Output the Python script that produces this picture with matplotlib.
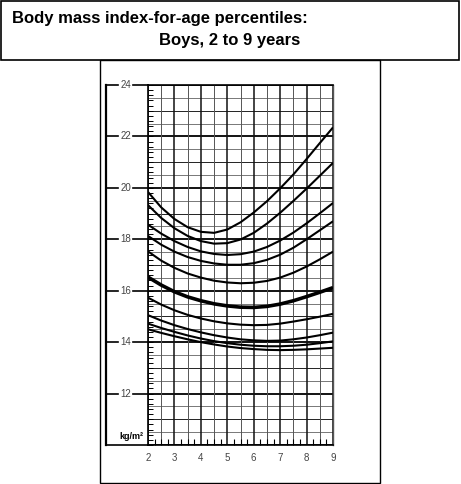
import numpy as np
import matplotlib
matplotlib.use("Agg")
import matplotlib.pyplot as plt
from matplotlib.patches import Rectangle
from matplotlib.transforms import blended_transform_factory

plt.rcParams['font.family'] = ['Liberation Sans', 'DejaVu Sans']

ages = [2, 2.5, 3, 3.5, 4, 4.5, 5, 5.5, 6, 6.5, 7, 7.5, 8, 8.5, 9]

# BMI percentile curves, kg/m2
p97 = [19.84, 19.24, 18.79, 18.47, 18.29, 18.25, 18.38, 18.66, 19.04, 19.48, 19.98, 20.52, 21.12, 21.74, 22.35]
p95 = [19.33, 18.83, 18.43, 18.13, 17.93, 17.83, 17.85, 17.99, 18.25, 18.61, 19.03, 19.49, 19.97, 20.47, 20.97]
p90 = [18.57, 18.22, 17.93, 17.70, 17.53, 17.43, 17.39, 17.42, 17.52, 17.70, 17.95, 18.26, 18.62, 19.01, 19.41]
p85 = [18.13, 17.79, 17.52, 17.31, 17.16, 17.06, 17.01, 17.01, 17.07, 17.20, 17.40, 17.67, 18.00, 18.35, 18.70]
p75 = [17.53, 17.17, 16.89, 16.67, 16.51, 16.39, 16.32, 16.29, 16.31, 16.38, 16.51, 16.70, 16.94, 17.22, 17.52]
p50 = [16.53, 16.22, 15.96, 15.76, 15.61, 15.49, 15.41, 15.36, 15.35, 15.39, 15.48, 15.61, 15.77, 15.94, 16.12]
p25 = [15.73, 15.46, 15.24, 15.06, 14.92, 14.81, 14.73, 14.68, 14.66, 14.67, 14.72, 14.80, 14.89, 14.99, 15.10]
p10 = [15.05, 14.84, 14.66, 14.51, 14.38, 14.27, 14.18, 14.11, 14.07, 14.05, 14.06, 14.11, 14.18, 14.27, 14.37]
p5 = [14.72, 14.55, 14.40, 14.26, 14.14, 14.04, 13.96, 13.90, 13.86, 13.84, 13.84, 13.86, 13.90, 13.96, 14.03]
p3 = [14.50, 14.36, 14.23, 14.11, 14.00, 13.91, 13.83, 13.77, 13.73, 13.70, 13.69, 13.70, 13.72, 13.75, 13.78]

curves = [p97, p95, p90, p85, p75, p50, p25, p10, p5, p3]
x_labels = ['2', '3', '4', '5', '6', '7', '8', '9']
y_labels = ['12', '14', '16', '18', '20', '22', '24']
title1 = 'Body mass index-for-age percentiles:'
title2 = 'Boys, 2 to 9 years'

W, H = 461, 484
fig = plt.figure(figsize=(W / 100, H / 100), dpi=100)

# frames (pixel coords -> figure fraction)
def fx(px):
    return px / W

def fy(py):
    return 1 - py / H

fig.add_artist(Rectangle((fx(1), fy(60)), fx(458), 59 / H, fill=False, lw=1.2, ec='black'))
fig.add_artist(Rectangle((fx(100), fy(483)), fx(280), 423 / H, fill=False, lw=1.0, ec='black'))
fig.text(fx(12), fy(19), title1, fontsize=12, fontweight='bold', va='center', ha='left')
fig.text(fx(230), fy(41), title2, fontsize=12, fontweight='bold', va='center', ha='center')

# plot area: age 2 at x=148, age 9 at x=333, 24 at y=85, 10 at y=445
ax = fig.add_axes([fx(148), fy(445), (333 - 148) / W, (445 - 85) / H])
ax.set_xlim(2, 9)
ax.set_ylim(10, 24)

# grid
for v in np.arange(10, 24.01, 0.5):
    if v % 2 == 0:
        ax.axhline(v, color='black', lw=1.3, zorder=1)
    elif v % 1 == 0:
        ax.axhline(v, color='#222222', lw=0.7, zorder=1)
    else:
        ax.axhline(v, color='#777777', lw=0.7, zorder=1)
for a in np.arange(2, 9.01, 0.5):
    if a % 1 == 0:
        ax.axvline(a, color='#111111', lw=1.1, zorder=1)
    else:
        ax.axvline(a, color='#555555', lw=0.7, zorder=1)

for c in curves:
    lw = 2.6 if c is p50 else 1.5
    ax.plot(ages, c, color='black', lw=lw, zorder=3, solid_capstyle='butt', solid_joinstyle='round')

for s in ['top', 'bottom', 'left']:
    ax.spines[s].set_color('black')
    ax.spines[s].set_linewidth(1.2)
ax.spines['right'].set_color('#555555')
ax.spines['right'].set_linewidth(1.0)

# ticks
ax.set_xticks([2, 3, 4, 5, 6, 7, 8, 9])
ax.set_xticklabels(x_labels, fontsize=7, color='#444444')
ax.set_xticks(np.arange(2, 9.01, 0.25), minor=True)
ax.tick_params(axis='x', which='major', length=0, pad=6)
ax.tick_params(axis='x', which='minor', direction='in', length=4, width=0.8)
ax.set_yticks([])
ax.set_yticks(np.arange(10, 24.01, 0.2), minor=True)
ax.tick_params(axis='y', which='minor', direction='in', length=3.5, width=0.7)

# left scale with labels sitting on short lines
tr = blended_transform_factory(ax.transAxes, ax.transData)
x0 = -42 / 185
ax.plot([x0, x0], [10, 24], color='black', lw=1.6, transform=tr, clip_on=False)
ax.plot([x0, 0], [10, 10], color='black', lw=1.2, transform=tr, clip_on=False)
for lab in y_labels:
    v = float(lab)
    ax.plot([x0, -30 / 185], [v, v], color='black', lw=1.2, transform=tr, clip_on=False)
    ax.plot([-15 / 185, 0], [v, v], color='black', lw=1.2, transform=tr, clip_on=False)
    ax.text(-22.5 / 185, v, lab, transform=tr, fontsize=7, color='#444444', ha='center', va='center')
ax.text(-17 / 185, 10.32, 'kg/m²', transform=tr, fontsize=6.5, fontweight='bold', ha='center', va='center')

fig.savefig('out.png', dpi=100)
